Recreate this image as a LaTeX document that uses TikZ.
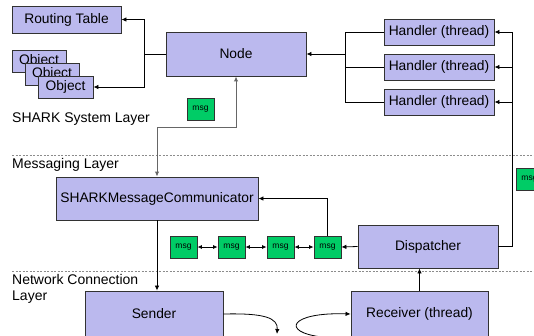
\documentclass[tikz,border=0pt]{standalone}
\usepackage{fontspec}
\setmainfont{Liberation Sans}
\usetikzlibrary{arrows.meta,calc}
\definecolor{boxfill}{RGB}{187,185,238}
\definecolor{msgfill}{RGB}{0,204,102}
\definecolor{boxline}{RGB}{50,50,50}
\definecolor{layerline}{RGB}{140,140,140}
\tikzset{
  comp/.style={draw=boxline, line width=0.9pt, fill=boxfill, inner sep=0pt,
    font=\fontsize{13.8}{16}\selectfont},
  msgbox/.style={draw=boxline, line width=0.8pt, fill=msgfill, inner sep=0pt,
    minimum width=27pt, minimum height=22pt, font=\fontsize{8.5}{10}\selectfont},
  layertext/.style={anchor=base west, inner sep=0pt, font=\fontsize{14}{16}\selectfont},
  layersep/.style={draw=layerline, line width=0.7pt, dash pattern=on 2pt off 1.5pt},
  link/.style={draw=black, line width=0.8pt, -{Latex[length=5pt,width=4.5pt]}},
  plainlink/.style={draw=black, line width=0.8pt},
  graylink/.style={draw=black!60, line width=1pt, {Latex[length=5pt,width=4.5pt]}-{Latex[length=5pt,width=4.5pt]}},
  chain/.style={draw=black, line width=0.8pt, {Latex[length=4.5pt,width=4pt]}-{Latex[length=4.5pt,width=4pt]}}
}
\begin{document}
\begin{tikzpicture}[x=1pt, y=-1pt]
\useasboundingbox (0,0) rectangle (534,335);
\clip (0,0) rectangle (534,335);
\fill[white] (0,0) rectangle (534,335);

% layer separators
\draw[layersep] (12,155) -- (534,155);
\draw[layersep] (12,271) -- (534,271);

% layer captions
\node[layertext] (lsys) at (12,122) {SHARK System Layer};
\node[layertext] (lmsg) at (12,168) {Messaging Layer};
\node[layertext] (lnet1) at (12,284) {Network Connection};
\node[layertext] (lnet2) at (12,300) {Layer};

% SHARK system layer
\node[comp, minimum width=109pt, minimum height=27pt] (rt) at (66.5,19.5) {Routing Table};
\node[comp, minimum width=54pt, minimum height=22pt] (o1) at (39,61) {Object};
\node[comp, minimum width=54pt, minimum height=22pt] (o2) at (52,74) {Object};
\node[comp, minimum width=55pt, minimum height=22pt] (o3) at (65.5,87) {Object};
\node[comp, minimum width=140pt, minimum height=44pt] (nd) at (236,54) {Node};
\node[comp, minimum width=110pt, minimum height=26pt] (h1) at (439,32) {Handler (thread)};
\node[comp, minimum width=110pt, minimum height=26pt] (h2) at (439,67) {Handler (thread)};
\node[comp, minimum width=110pt, minimum height=26pt] (h3) at (439,102) {Handler (thread)};
\node[msgbox] (mtop) at (200.5,109) {msg};

% messaging layer
\node[comp, minimum width=202pt, minimum height=43pt] (comm) at (157,198.5) {SHARKMessageCommunicator};
\node[msgbox] (m1) at (183.5,247) {msg};
\node[msgbox] (m2) at (231.5,247) {msg};
\node[msgbox] (m3) at (280.5,247) {msg};
\node[msgbox] (m4) at (327.5,247) {msg};
\node[comp, minimum width=140pt, minimum height=43pt] (disp) at (428,246.5) {Dispatcher};
\node[msgbox] (mright) at (529.5,179) {msg};

% network connection layer
\node[comp, minimum width=138pt, minimum height=46pt] (snd) at (154,314) {Sender};
\node[comp, minimum width=137pt, minimum height=46pt] (rcv) at (419.5,314) {Receiver (thread)};

% junction points
\coordinate (jn) at (144,54);
\coordinate (jh) at (345,54);
\coordinate (jd) at (512,246.5);
\coordinate (jc) at (157,127);
\coordinate (wireout) at (277,334);
\coordinate (wirein) at (322,337);

% node to routing table and objects
\draw[plainlink] (nd.west) -- (jn);
\draw[link] (jn) |- (rt.east);
\draw[link] (jn) |- (o3.east);

% handlers to node
\draw[plainlink] (h1.west) -| (jh);
\draw[plainlink] (h3.west) -| (jh);
\draw[plainlink] (h2.west) -- (h2.west -| jh);
\draw[link] (jh) -- (nd.east);

% dispatcher to handlers
\draw[plainlink] (disp.east) -- (jd) -- (jd |- h1.east);
\draw[link] (jd |- h1.east) -- (h1.east);
\draw[link] (jd |- h2.east) -- (h2.east);
\draw[link] (jd |- h3.east) -- (h3.east);

% node and communicator
\draw[graylink] (nd.south) |- (jc) -- (comm.north);

% message queue
\draw[chain] (m1.east) -- (m2.west);
\draw[chain] (m2.east) -- (m3.west);
\draw[chain] (m3.east) -- (m4.west);
\draw[link] (disp.west) -- (m4.east);
\draw[link] (m4.north) |- (comm.east);

% communicator to sender, receiver to dispatcher
\draw[link] (comm.south) -- (comm.south |- snd.north);
\draw[link] (rcv.north) -- (rcv.north |- disp.south);

% wire between sender and receiver
\draw[link] (snd.east) .. controls (265,313) and (278,318) .. (wireout);
\draw[link] (wirein) .. controls (280,332) and (290,312) .. (rcv.west);
\end{tikzpicture}
\end{document}
